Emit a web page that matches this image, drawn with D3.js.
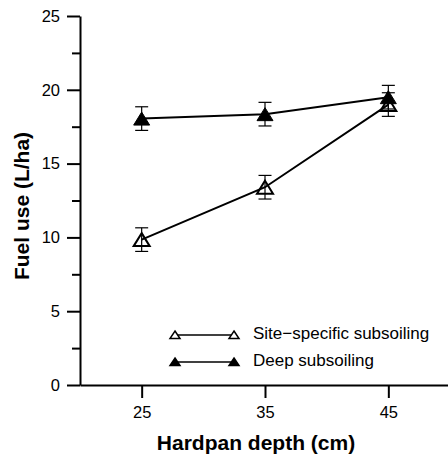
<!doctype html>
<html>
<head>
<meta charset="UTF-8">
<script src="https://d3js.org/d3.v7.min.js"></script>
<style>
  body { margin: 0; background: #fff; }
  svg { display: block; font-family: "Liberation Sans", Arial, sans-serif; }
  .axis path, .axis line { stroke: #000; stroke-width: 2px; }
  .axis text { font-size: 16.5px; fill: #000; font-family: "Liberation Sans", Arial, sans-serif; }
</style>
</head>
<body>
<svg width="448" height="455"></svg>
<script>
// hardpan depth (cm)
const depths = [25, 35, 45];
// fuel use (L/ha) with error bar half-widths
const siteSpecific = [9.85, 13.4, 19.0];
const siteSpecificErr = [0.8, 0.8, 0.8];
const deep = [18.05, 18.35, 19.5];
const deepErr = [0.8, 0.8, 0.8];

const xTicks = [25, 35, 45];
const yTicks = [0, 5, 10, 15, 20, 25];
const yMinorTicks = [2.5, 7.5, 12.5, 17.5, 22.5];
const seriesNames = ["Site\u2212specific subsoiling", "Deep subsoiling"];

const svg = d3.select("svg");

const x = d3.scaleLinear().domain([20, 50]).range([80, 450]);
const y = d3.scaleLinear().domain([0, 25]).range([385, 16]);

// minor y ticks
svg.append("g")
  .attr("class", "axis")
  .attr("transform", "translate(80,0)")
  .call(d3.axisLeft(y).tickValues(yMinorTicks).tickSize(8).tickFormat(""))
  .select(".domain").remove();

// major y ticks
svg.append("g")
  .attr("class", "axis")
  .attr("transform", "translate(80,0)")
  .call(d3.axisLeft(y).tickValues(yTicks).tickSize(13).tickSizeOuter(0).tickPadding(7));

// x axis
svg.append("g")
  .attr("class", "axis")
  .attr("transform", "translate(0,385)")
  .call(d3.axisBottom(x).tickValues(xTicks).tickSize(13).tickSizeOuter(0).tickPadding(8));

// axis titles
svg.append("text")
  .attr("x", 256).attr("y", 450)
  .attr("text-anchor", "middle")
  .style("font-size", "21px").style("font-weight", "bold")
  .text("Hardpan depth (cm)");

svg.append("text")
  .attr("transform", "translate(29,206) rotate(-90)")
  .attr("text-anchor", "middle")
  .style("font-size", "21px").style("font-weight", "bold")
  .text("Fuel use (L/ha)");

const bigTri = "M0,-6.5L8,6.5L-8,6.5Z";
const smallTri = "M0,-4L5,3.5L-5,3.5Z";

const series = [
  { name: seriesNames[0], vals: siteSpecific, err: siteSpecificErr, filled: false },
  { name: seriesNames[1], vals: deep, err: deepErr, filled: true }
];

const line = d3.line().x(d => x(d[0])).y(d => y(d[1]));

series.forEach(s => {
  const pts = depths.map((d, i) => [d, s.vals[i], s.err[i]]);
  const g = svg.append("g");

  g.append("path")
    .attr("d", line(pts))
    .attr("fill", "none")
    .attr("stroke", "#000")
    .attr("stroke-width", 2);

  // error bars
  const eb = g.selectAll(".eb").data(pts).enter().append("g");
  eb.append("line")
    .attr("x1", d => x(d[0])).attr("x2", d => x(d[0]))
    .attr("y1", d => y(d[1] + d[2])).attr("y2", d => y(d[1] - d[2]))
    .attr("stroke", "#000").attr("stroke-width", 1.2);
  [1, -1].forEach(sgn => {
    eb.append("line")
      .attr("x1", d => x(d[0]) - 6.5).attr("x2", d => x(d[0]) + 6.5)
      .attr("y1", d => y(d[1] + sgn * d[2])).attr("y2", d => y(d[1] + sgn * d[2]))
      .attr("stroke", "#000").attr("stroke-width", 1.2);
  });

  g.selectAll(".mk").data(pts).enter().append("path")
    .attr("d", bigTri)
    .attr("transform", d => `translate(${x(d[0])},${y(d[1])})`)
    .attr("fill", s.filled ? "#000" : "none")
    .attr("stroke", "#000")
    .attr("stroke-width", s.filled ? 1 : 2);
});

// legend
const legendY = [335, 362];
series.forEach((s, i) => {
  const lg = svg.append("g");
  lg.append("line")
    .attr("x1", 175).attr("x2", 234)
    .attr("y1", legendY[i]).attr("y2", legendY[i])
    .attr("stroke", "#000").attr("stroke-width", 1.5);
  [175, 234].forEach(cx => {
    lg.append("path")
      .attr("d", smallTri)
      .attr("transform", `translate(${cx},${legendY[i]})`)
      .attr("fill", s.filled ? "#000" : "#fff")
      .attr("stroke", "#000")
      .attr("stroke-width", 1.5);
  });
  lg.append("text")
    .attr("x", 253).attr("y", legendY[i] + 4)
    .style("font-size", "17px")
    .text(s.name);
});
</script>
</body>
</html>
